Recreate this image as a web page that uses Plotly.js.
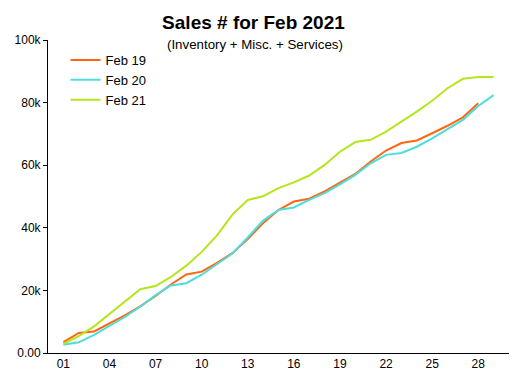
<!DOCTYPE html>
<html>
<head>
<meta charset="utf-8">
<script src="https://cdn.plot.ly/plotly-3.0.1.min.js"></script>
<style>
  html, body { margin: 0; padding: 0; background: #fff; }
  #chart { width: 510px; height: 382px; }
</style>
</head>
<body>
<div id="chart"></div>
<script>
const days19 = [1,2,3,4,5,6,7,8,9,10,11,12,13,14,15,16,17,18,19,20,21,22,23,24,25,26,27,28];
const days20 = [1,2,3,4,5,6,7,8,9,10,11,12,13,14,15,16,17,18,19,20,21,22,23,24,25,26,27,28,29];
const days21 = [1,2,3,4,5,6,7,8,9,10,11,12,13,14,15,16,17,18,19,20,21,22,23,24,25,26,27,28,29];

const feb19 = [3500, 6400, 6900, 9400, 12000, 14900, 18200, 21900, 25100, 26000, 28800, 31900, 36400, 41500, 45700, 48400, 49300, 51600, 54300, 57200, 61200, 64700, 67100, 67900, 70200, 72600, 75300, 79800];
const feb20 = [2600, 3400, 5800, 8600, 11500, 14800, 18500, 21600, 22300, 25000, 28300, 31800, 36900, 42300, 45700, 46500, 48900, 51100, 53900, 56900, 60600, 63300, 63900, 65900, 68600, 71500, 74500, 78900, 82400];
const feb21 = [2900, 5400, 8500, 12500, 16700, 20400, 21400, 24300, 27900, 32300, 37600, 44200, 48900, 50100, 52700, 54500, 56700, 60100, 64300, 67400, 68100, 70700, 73900, 77100, 80600, 84600, 87600, 88200, 88200];

const xTickVals = [1,4,7,10,13,16,19,22,25,28];
const xTickText = ["01","04","07","10","13","16","19","22","25","28"];
const yTickVals = [0,20000,40000,60000,80000,100000];
const yTickText = ["0.00","20k","40k","60k","80k","100k"];

const font = "'Liberation Sans', Arial, sans-serif";

const traces = [
  {x: days19, y: feb19, name: "Feb 19", type: "scatter", mode: "lines", line: {color: "#ff6611", width: 2}},
  {x: days20, y: feb20, name: "Feb 20", type: "scatter", mode: "lines", line: {color: "#4ddddd", width: 2}},
  {x: days21, y: feb21, name: "Feb 21", type: "scatter", mode: "lines", line: {color: "#b5e61d", width: 2}}
];

const layout = {
  width: 510, height: 382,
  margin: {l: 48, r: 1, t: 40, b: 29, pad: 0},
  paper_bgcolor: "#fff", plot_bgcolor: "#fff",
  font: {family: font, size: 12, color: "#000"},
  showlegend: true,
  title: {
    text: "Sales # for Feb 2021",
    font: {family: font, size: 19, weight: "bold", color: "#000"},
    x: 0.497, xanchor: "center", xref: "container",
    y: 0.942, yanchor: "middle", yref: "container"
  },
  annotations: [{
    text: "(Inventory + Misc. + Services)",
    xref: "paper", yref: "paper", x: 0.448, y: 0.987,
    xanchor: "center", yanchor: "middle", showarrow: false,
    font: {family: font, size: 13.3, color: "#000"}
  }],
  legend: {
    x: 0.038, y: 0.984, xanchor: "left", yanchor: "top",
    bgcolor: "rgba(0,0,0,0)", borderwidth: 0,
    font: {family: font, size: 13, color: "#000"}
  },
  xaxis: {
    range: [0, 30], showgrid: false, zeroline: false,
    showline: true, linecolor: "#000", linewidth: 1,
    tickvals: xTickVals, ticktext: xTickText, ticks: "",
    tickfont: {family: font, size: 12, color: "#000"}, fixedrange: true
  },
  yaxis: {
    range: [0, 100000], showgrid: false, zeroline: false,
    showline: true, linecolor: "#000", linewidth: 1,
    tickvals: yTickVals, ticktext: yTickText, ticks: "outside", ticklen: 4, tickcolor: "#000",
    tickfont: {family: font, size: 12, color: "#000"}, fixedrange: true
  }
};

Plotly.newPlot("chart", traces, layout, {displayModeBar: false, staticPlot: true});
</script>
</body>
</html>
